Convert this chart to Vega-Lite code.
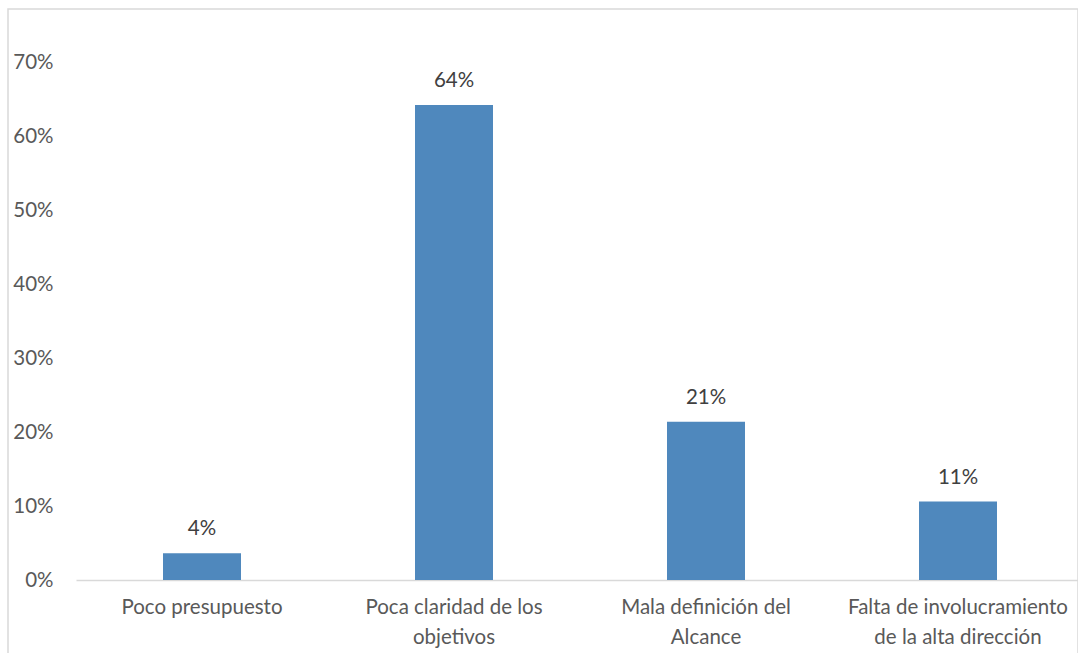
{
  "$schema": "https://vega.github.io/schema/vega-lite/v6.json",
  "autosize": "none",
  "width": 1070,
  "height": 660,
  "padding": {"left": 8, "top": 9, "right": 0, "bottom": 0},
  "background": "white",
  "config": {
    "view": {"stroke": "#d9d9d9", "strokeWidth": 1.5},
    "font": "Lato",
    "axis": {"grid": false, "labelFont": "Lato", "labelColor": "#595959", "labelFontSize": 20.5, "labelLimit": 400}
  },
  "data": {
    "values": [
      {"causa": "Poco presupuesto", "valor": 0.036},
      {"causa": "Poca claridad de los objetivos", "valor": 0.642},
      {"causa": "Mala definición del Alcance", "valor": 0.214},
      {"causa": "Falta de involucramiento de la alta dirección", "valor": 0.106}
    ]
  },
  "encoding": {
    "x": {
      "field": "causa",
      "type": "nominal",
      "sort": null,
      "scale": {"range": [68, 1076], "paddingInner": 0, "paddingOuter": 0},
      "axis": {
        "title": null,
        "labelAngle": 0,
        "ticks": false,
        "domainColor": "#d9d9d9",
        "domainWidth": 1.3,
        "offset": -89,
        "labelPadding": 17,
        "labelLineHeight": 30,
        "labelExpr": "datum.value == 'Poca claridad de los objetivos' ? ['Poca claridad de los', 'objetivos'] : datum.value == 'Mala definición del Alcance' ? ['Mala definición del', 'Alcance'] : datum.value == 'Falta de involucramiento de la alta dirección' ? ['Falta de involucramiento', 'de la alta dirección'] : datum.value"
      }
    },
    "y": {
      "field": "valor",
      "type": "quantitative",
      "scale": {"domain": [0, 0.7], "nice": false, "range": [571, 53]},
      "axis": {
        "title": null,
        "format": ".0%",
        "values": [0, 0.1, 0.2, 0.3, 0.4, 0.5, 0.6, 0.7],
        "domain": false,
        "ticks": false,
        "labelPadding": -45
      }
    }
  },
  "layer": [
    {"mark": {"type": "bar", "color": "#4f88bd", "width": 78}},
    {
      "mark": {"type": "text", "dy": -24, "fontSize": 20.5, "color": "#404040", "font": "Lato"},
      "encoding": {"text": {"field": "valor", "type": "quantitative", "format": ".0%"}}
    }
  ]
}
